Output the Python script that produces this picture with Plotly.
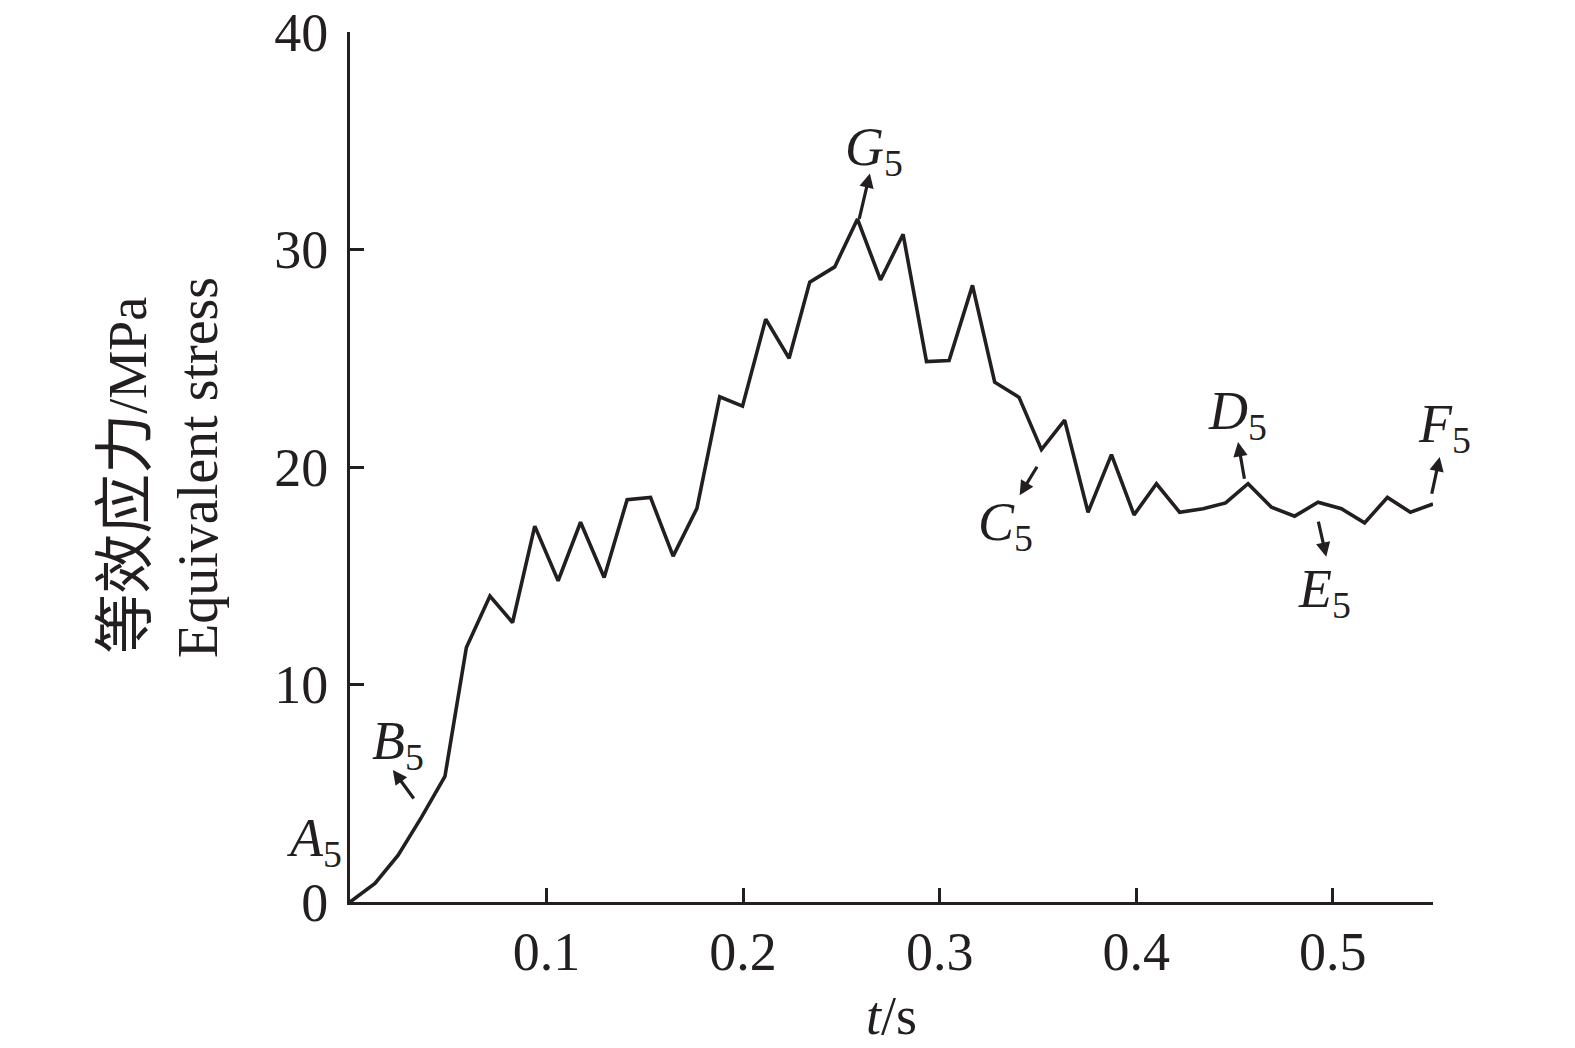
import plotly.graph_objects as go

# time (s)
t_s = [0.0, 0.0127, 0.0245, 0.0364, 0.0483, 0.0592, 0.0712, 0.0827, 0.0940, 0.1059,
       0.1173, 0.1293, 0.1410, 0.1529, 0.1644, 0.1765, 0.1881, 0.1997, 0.2115, 0.2234,
       0.2339, 0.2466, 0.2582, 0.2699, 0.2814, 0.2933, 0.3048, 0.3167, 0.3280, 0.3404,
       0.3518, 0.3636, 0.3755, 0.3874, 0.3989, 0.4103, 0.4221, 0.4340, 0.4455, 0.4569,
       0.4688, 0.4806, 0.4925, 0.5044, 0.5162, 0.5278, 0.5395, 0.5510]
# equivalent stress (MPa)
stress = [0.0, 0.85, 2.15, 3.9, 5.77, 11.7, 14.07, 12.85, 17.28, 14.77,
          17.46, 14.92, 18.5, 18.6, 15.9, 18.1, 23.23, 22.8, 26.8, 25.0,
          28.5, 29.2, 31.4, 28.6, 30.7, 24.85, 24.9, 28.35, 23.9, 23.2,
          20.8, 22.15, 17.92, 20.57, 17.8, 19.23, 17.92, 18.08, 18.35, 19.23,
          18.15, 17.74, 18.38, 18.08, 17.43, 18.6, 17.92, 18.3]

x_ticks = [0.1, 0.2, 0.3, 0.4, 0.5]
x_tick_text = ["0.1", "0.2", "0.3", "0.4", "0.5"]
y_ticks = [0, 10, 20, 30, 40]
y_tick_text = ["0", "10", "20", "30", "40"]

# point labels (A5 sits left of the axis, so it is placed in paper units separately)
labels = ["B", "G", "C", "D", "E", "F"]
label_x = [0.0100, 0.2506, 0.3186, 0.4356, 0.4814, 0.5425]
label_y = [7.26, 34.56, 17.32, 22.43, 14.25, 21.82]
arrow_tail_x = [0.0330, 0.2589, 0.3500, 0.4552, 0.4925, 0.5502]
arrow_tail_y = [4.69, 31.34, 20.08, 19.39, 17.56, 18.70]
arrow_head_x = [0.0218, 0.2645, 0.3407, 0.4518, 0.4967, 0.5544]
arrow_head_y = [6.07, 33.5, 18.7, 21.15, 15.87, 20.46]

INK = "#231f20"
SERIF = "Liberation Serif, Times New Roman, Noto Sans CJK SC, serif"
FS = 54

fig = go.Figure()
fig.add_trace(go.Scatter(x=t_s, y=stress, mode="lines",
                         line=dict(color=INK, width=3.6), showlegend=False,
                         cliponaxis=False))

def lab(L):
    return f"<i>{L}</i><sub>5</sub>"

annotations = []
for i, L in enumerate(labels):
    annotations.append(dict(
        x=label_x[i], y=label_y[i], xref="x", yref="y",
        text=lab(L), showarrow=False,
        xanchor="left", yanchor="middle",
        font=dict(family=SERIF, size=FS, color=INK)))
    annotations.append(dict(
        x=arrow_head_x[i], y=arrow_head_y[i], xref="x", yref="y",
        ax=arrow_tail_x[i], ay=arrow_tail_y[i], axref="x", ayref="y",
        text="", showarrow=True, arrowhead=2, arrowsize=0.9,
        arrowwidth=3.2, arrowcolor=INK, standoff=0, startstandoff=0))

annotations.append(dict(x=-0.0600, y=0.0701, xref="paper", yref="paper",
                        text=lab("A"), showarrow=False, xanchor="left", yanchor="middle",
                        font=dict(family=SERIF, size=FS, color=INK)))

# y-axis title (two lines)
annotations.append(dict(x=-0.2068, y=0.49, xref="paper", yref="paper",
                        text="<span style='font-size:60px'>等效应力</span>/MPa",
                        textangle=-90, showarrow=False, xanchor="center", yanchor="middle",
                        font=dict(family=SERIF, size=54, color=INK)))
annotations.append(dict(x=-0.1404, y=0.5, xref="paper", yref="paper", text="Equivalent stress",
                        textangle=-90, showarrow=False, xanchor="center", yanchor="middle",
                        font=dict(family=SERIF, size=56, color=INK)))

fig.update_layout(
    width=1575, height=1048,
    margin=dict(l=342, r=150, t=24, b=154),
    paper_bgcolor="white", plot_bgcolor="white",
    annotations=annotations,
    font=dict(family=SERIF, size=FS, color=INK),
)
fig.update_xaxes(range=[0, 0.551], tickvals=x_ticks, ticktext=x_tick_text,
                 ticks="inside", ticklen=14, tickwidth=2.5, tickcolor=INK,
                 showline=True, linewidth=3, linecolor=INK, showgrid=False,
                 zeroline=False, mirror=False, automargin=False,
                 ticklabeloverflow="allow",
                 tickfont=dict(family=SERIF, size=FS, color=INK),
                 title=dict(text="<i>t</i>/s", font=dict(family=SERIF, size=FS, color=INK),
                            standoff=16))
fig.update_yaxes(range=[0, 40], tickvals=y_ticks, ticktext=y_tick_text,
                 ticks="inside", ticklen=14, tickwidth=2.5, tickcolor=INK,
                 showline=True, linewidth=3, linecolor=INK, showgrid=False,
                 zeroline=False, mirror=False, ticklabelstandoff=8, automargin=False,
                 ticklabeloverflow="allow",
                 tickfont=dict(family=SERIF, size=FS, color=INK))

fig.write_html("out.html")
